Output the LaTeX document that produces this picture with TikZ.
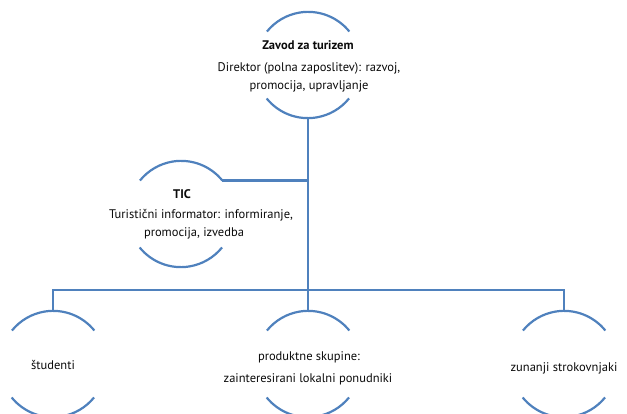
\documentclass[tikz,border=0pt]{standalone}
\usepackage{fontspec}
\setmainfont{PT Sans}
\definecolor{lineblue}{RGB}{79,129,189}
\definecolor{txt}{RGB}{10,10,10}
\begin{document}
\begin{tikzpicture}[x=1pt,y=-1pt,
  ring/.style={circle,minimum size=106pt,inner sep=0pt},
  arcline/.style={draw=lineblue,line width=2.2pt},
  conn/.style={draw=lineblue,line width=2.2pt},
  lbl/.style={text=txt,font=\fontsize{12.5}{14}\selectfont,inner sep=0pt,anchor=base},
  blbl/.style={lbl,font=\fontsize{12.5}{14}\selectfont\bfseries}]
\useasboundingbox (0,0) rectangle (627,414);
\clip (0,0) rectangle (627,414);
% circles (invisible, for anchors)
\node[ring] (top) at (308,65) {};
\node[ring] (tic) at (181,214) {};
\node[ring] (stu) at (53,364) {};
\node[ring] (mid) at (308,364) {};
\node[ring] (ext) at (564,364) {};
% arcs
\foreach \n in {top,tic,stu,mid,ext}{
  \draw[arcline] (\n.39) arc (39:141:53pt);
  \draw[arcline] (\n.219) arc (219:321:53pt);
}
% connectors
\draw[conn] (top.south) -- (mid.north);
\draw[conn] (tic.39) -- (tic.39 -| top.south);
\coordinate (bus) at (308,290);
\draw[conn] (stu.north) |- (bus) -| (ext.north);
% texts
\node[blbl] (t1) at (308,50) {Zavod za turizem};
\node[lbl] (t2) at (309,72) {Direktor (polna zaposlitev): razvoj,};
\node[lbl] (t3) at (309,90) {promocija, upravljanje};
\node[blbl] (c1) at (182,199) {TIC};
\node[lbl] (c2) at (201,219) {Turistični informator: informiranje,};
\node[lbl] (c3) at (194,237) {promocija, izvedba};
\node[lbl] (s1) at (53,370) {študenti};
\node[lbl] (m1) at (309,360) {produktne skupine:};
\node[lbl] (m2) at (308,382) {zainteresirani lokalni ponudniki};
\node[lbl] (e1) at (564,371) {zunanji strokovnjaki};
\end{tikzpicture}
\end{document}
